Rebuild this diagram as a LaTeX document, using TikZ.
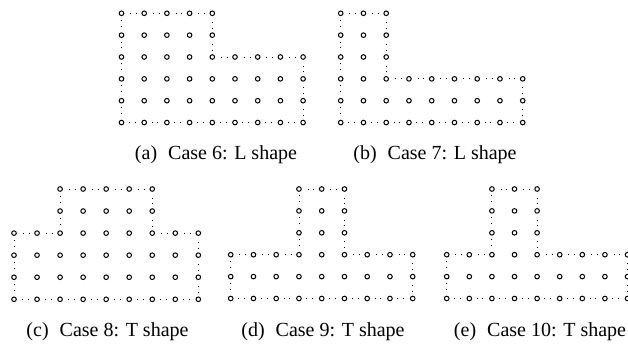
\documentclass[tikz,border=0pt]{standalone}
\usepackage{fontspec}
\setmainfont{Liberation Serif}
\begin{document}
\begin{tikzpicture}[x=1pt,y=-1pt,
  gridpt/.style={circle,draw=black,line width=1pt,minimum size=4.6pt,inner sep=0pt,fill=white},
  outl/.style={line width=0.9pt,dash pattern=on 0.9pt off 5pt on 0.9pt off 30pt,dash phase=31pt},
  captext/.style={font=\fontsize{20}{22}\selectfont,inner sep=0pt}]
\useasboundingbox (0,0) rectangle (628,347);
\clip (0,0) rectangle (628,347);
% panel a
\foreach \r in {0,1} \foreach \c in {0,...,4}
  \node[gridpt] (a-\c-\r) at ({121.5+22.7*\c},{13.3+21.85*\r}) {};
\foreach \r in {2,...,5} \foreach \c in {0,...,8}
  \node[gridpt] (a-\c-\r) at ({121.5+22.7*\c},{13.3+21.85*\r}) {};
\foreach \p/\q in {0-0/1-0,1-0/2-0,2-0/3-0,3-0/4-0,4-0/4-1,4-1/4-2,4-2/5-2,5-2/6-2,6-2/7-2,7-2/8-2,8-2/8-3,8-3/8-4,8-4/8-5,8-5/7-5,7-5/6-5,6-5/5-5,5-5/4-5,4-5/3-5,3-5/2-5,2-5/1-5,1-5/0-5,0-5/0-4,0-4/0-3,0-3/0-2,0-2/0-1,0-1/0-0}
  \draw[outl] (a-\p) -- (a-\q);
% panel b
\foreach \r in {0,1,2} \foreach \c in {0,1,2}
  \node[gridpt] (b-\c-\r) at ({340.7+22.75*\c},{13.3+21.85*\r}) {};
\foreach \r in {3,4,5} \foreach \c in {0,...,8}
  \node[gridpt] (b-\c-\r) at ({340.7+22.75*\c},{13.3+21.85*\r}) {};
\foreach \p/\q in {0-0/1-0,1-0/2-0,2-0/2-1,2-1/2-2,2-2/2-3,2-3/3-3,3-3/4-3,4-3/5-3,5-3/6-3,6-3/7-3,7-3/8-3,8-3/8-4,8-4/8-5,8-5/7-5,7-5/6-5,6-5/5-5,5-5/4-5,4-5/3-5,3-5/2-5,2-5/1-5,1-5/0-5,0-5/0-4,0-4/0-3,0-3/0-2,0-2/0-1,0-1/0-0}
  \draw[outl] (b-\p) -- (b-\q);
% panel c
\foreach \r in {0,1} \foreach \c in {2,...,6}
  \node[gridpt] (c-\c-\r) at ({14+23.04*\c},{189+22.06*\r}) {};
\foreach \r in {2,...,5} \foreach \c in {0,...,8}
  \node[gridpt] (c-\c-\r) at ({14+23.04*\c},{189+22.06*\r}) {};
\foreach \p/\q in {2-0/3-0,3-0/4-0,4-0/5-0,5-0/6-0,6-0/6-1,6-1/6-2,6-2/7-2,7-2/8-2,8-2/8-3,8-3/8-4,8-4/8-5,8-5/7-5,7-5/6-5,6-5/5-5,5-5/4-5,4-5/3-5,3-5/2-5,2-5/1-5,1-5/0-5,0-5/0-4,0-4/0-3,0-3/0-2,0-2/1-2,1-2/2-2,2-2/2-1,2-1/2-0}
  \draw[outl] (c-\p) -- (c-\q);
% panel d
\foreach \r in {0,1,2} \foreach \c in {3,4,5}
  \node[gridpt] (d-\c-\r) at ({230.7+22.75*\c},{189+21.9*\r}) {};
\foreach \r in {3,4,5} \foreach \c in {0,...,8}
  \node[gridpt] (d-\c-\r) at ({230.7+22.75*\c},{189+21.9*\r}) {};
\foreach \p/\q in {3-0/4-0,4-0/5-0,5-0/5-1,5-1/5-2,5-2/5-3,5-3/6-3,6-3/7-3,7-3/8-3,8-3/8-4,8-4/8-5,8-5/7-5,7-5/6-5,6-5/5-5,5-5/4-5,4-5/3-5,3-5/2-5,2-5/1-5,1-5/0-5,0-5/0-4,0-4/0-3,0-3/1-3,1-3/2-3,2-3/3-3,3-3/3-2,3-2/3-1,3-1/3-0}
  \draw[outl] (d-\p) -- (d-\q);
% panel e
\foreach \r in {0,1,2} \foreach \c in {2,3,4}
  \node[gridpt] (e-\c-\r) at ({446.7+22.6*\c},{189+21.9*\r}) {};
\foreach \r in {3,4,5} \foreach \c in {0,...,8}
  \node[gridpt] (e-\c-\r) at ({446.7+22.6*\c},{189+21.9*\r}) {};
\foreach \p/\q in {2-0/3-0,3-0/4-0,4-0/4-1,4-1/4-2,4-2/4-3,4-3/5-3,5-3/6-3,6-3/7-3,7-3/8-3,8-3/8-4,8-4/8-5,8-5/7-5,7-5/6-5,6-5/5-5,5-5/4-5,4-5/3-5,3-5/2-5,2-5/1-5,1-5/0-5,0-5/0-4,0-4/0-3,0-3/1-3,1-3/2-3,2-3/2-2,2-2/2-1,2-1/2-0}
  \draw[outl] (e-\p) -- (e-\q);
% captions
\node[captext] (capa) at (216,155) {(a)\hspace{0.55em}Case 6: L shape};
\node[captext] (capb) at (435,155) {(b)\hspace{0.55em}Case 7: L shape};
\node[captext] (capc) at (107.5,332) {(c)\hspace{0.55em}Case 8: T shape};
\node[captext] (capd) at (323,332) {(d)\hspace{0.55em}Case 9: T shape};
\node[captext] (cape) at (540,332) {(e)\hspace{0.55em}Case 10: T shape};
\end{tikzpicture}
\end{document}
